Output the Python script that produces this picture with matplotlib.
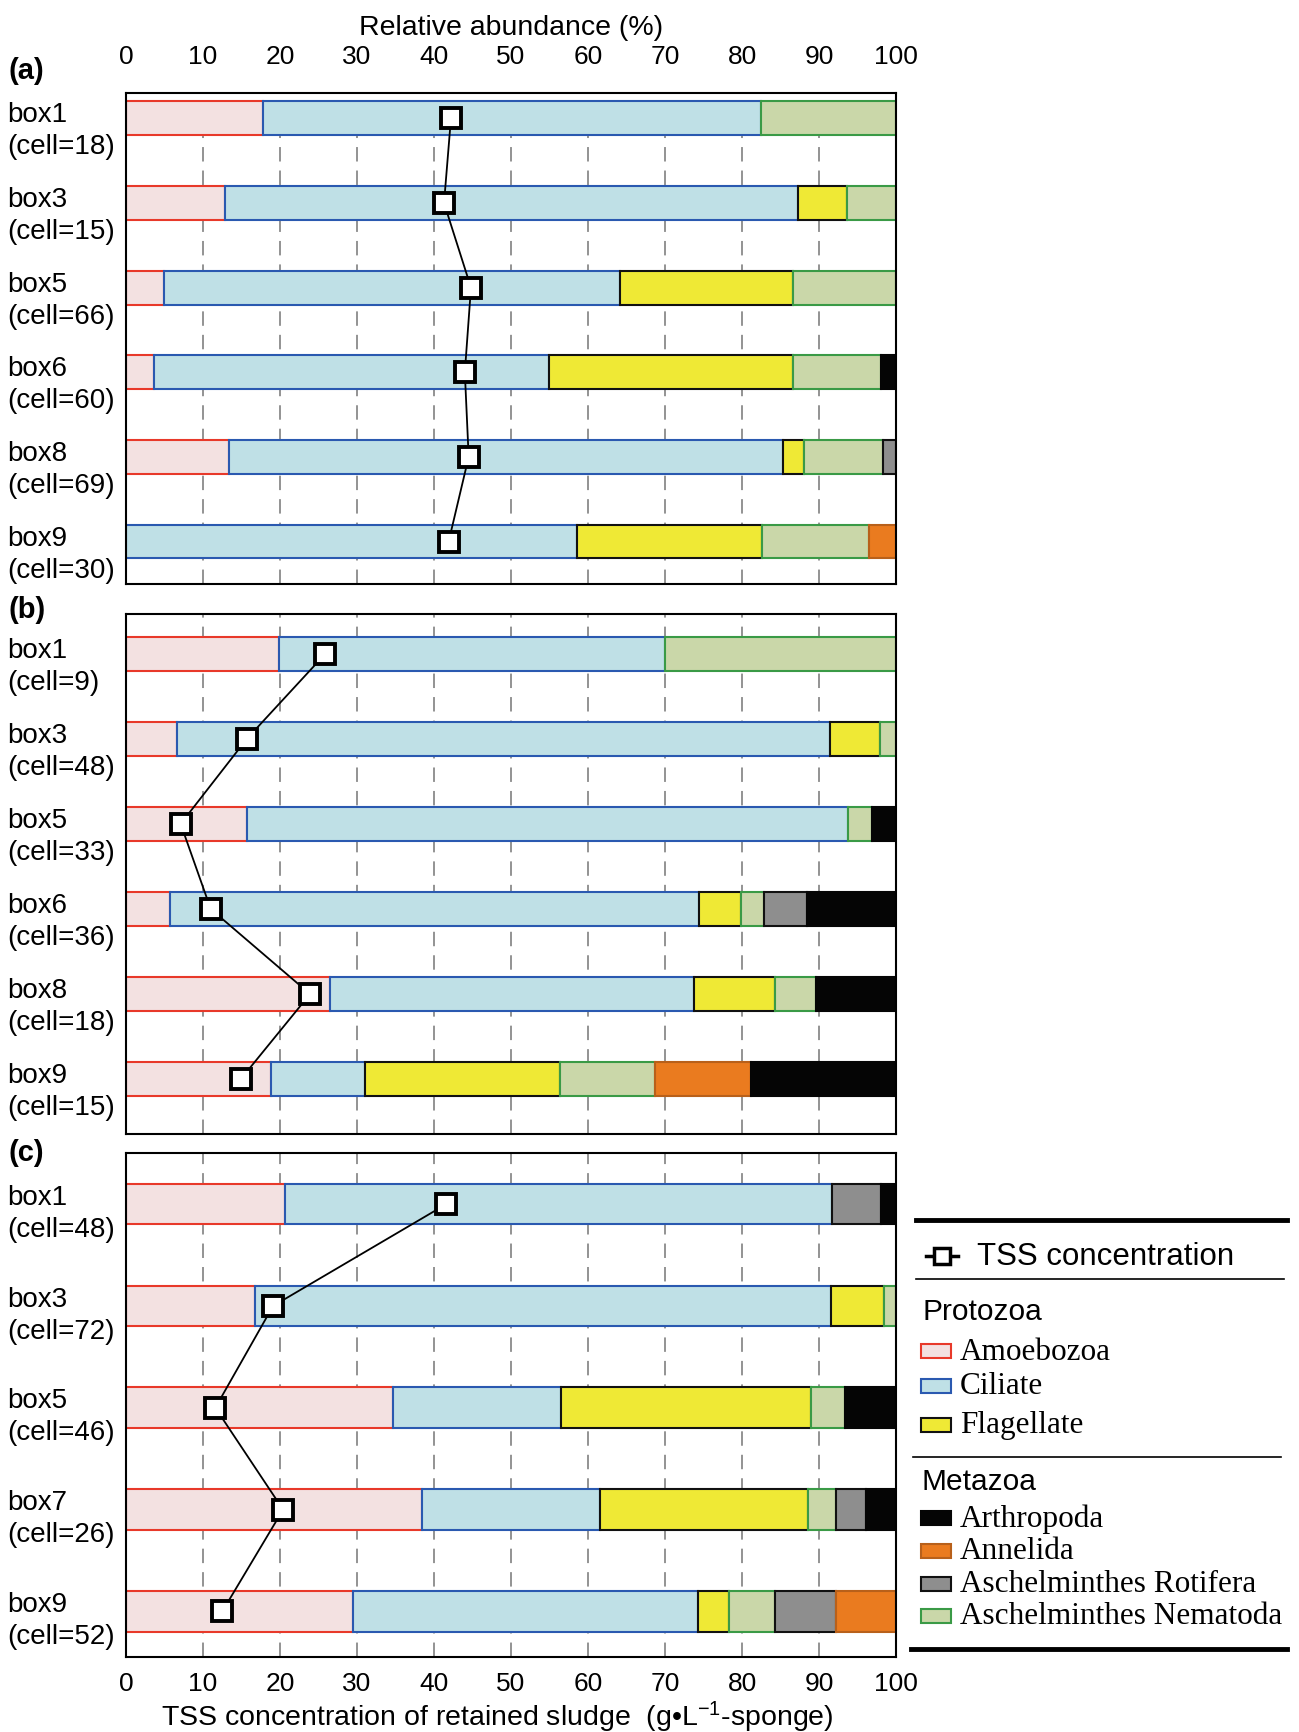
import numpy as np
import matplotlib
matplotlib.use("Agg")
import matplotlib.pyplot as plt
from matplotlib.transforms import blended_transform_factory
from matplotlib.patches import Rectangle

plt.rcParams['font.family'] = ['Liberation Sans', 'DejaVu Sans']
plt.rcParams['mathtext.fontset'] = 'custom'
plt.rcParams['mathtext.rm'] = 'Liberation Sans'
plt.rcParams['mathtext.it'] = 'Liberation Sans'

# stacking order of the segments in every bar
categories = ["Amoebozoa", "Ciliate", "Flagellate", "Aschelminthes Nematoda",
              "Aschelminthes Rotifera", "Annelida", "Arthropoda"]
fill_colors = ["#f3e1e1", "#bfe0e6", "#efe935", "#cad7a9", "#8e8e8e", "#ea7b1f", "#050505"]
edge_colors = ["#e8392a", "#2a59b0", "#111111", "#3a9a46", "#111111", "#b8601a", "#050505"]

# (a)
a_boxes = ["box1", "box3", "box5", "box6", "box8", "box9"]
a_cells = [18, 15, 66, 60, 69, 30]
a_tss = [42.2, 41.3, 44.8, 44.0, 44.5, 41.9]
a_abund = [[17.8, 64.7, 0.0, 17.5, 0.0, 0.0, 0.0],
           [12.9, 74.4, 6.3, 6.4, 0.0, 0.0, 0.0],
           [4.9, 59.2, 22.5, 13.4, 0.0, 0.0, 0.0],
           [3.7, 51.2, 31.7, 11.4, 0.0, 0.0, 2.0],
           [13.4, 71.9, 2.8, 10.2, 1.7, 0.0, 0.0],
           [0.0, 58.6, 24.0, 13.9, 0.0, 3.5, 0.0]]

# (b)
b_boxes = ["box1", "box3", "box5", "box6", "box8", "box9"]
b_cells = [9, 48, 33, 36, 18, 15]
b_tss = [25.9, 15.7, 7.1, 11.0, 23.9, 14.9]
b_abund = [[19.9, 50.1, 0.0, 30.0, 0.0, 0.0, 0.0],
           [6.6, 84.8, 6.5, 2.1, 0.0, 0.0, 0.0],
           [15.7, 78.1, 0.0, 3.1, 0.0, 0.0, 3.1],
           [5.7, 68.7, 5.5, 2.9, 5.6, 0.0, 11.6],
           [26.5, 47.2, 10.6, 5.3, 0.0, 0.0, 10.4],
           [18.8, 12.3, 25.2, 12.4, 0.0, 12.4, 18.9]]

# (c)
c_boxes = ["box1", "box3", "box5", "box7", "box9"]
c_cells = [48, 72, 46, 26, 52]
c_tss = [41.6, 19.1, 11.6, 20.4, 12.5]
c_abund = [[20.7, 71.0, 0.0, 0.0, 6.3, 0.0, 2.0],
           [16.8, 74.7, 7.0, 1.5, 0.0, 0.0, 0.0],
           [34.7, 21.8, 32.5, 4.4, 0.0, 0.0, 6.6],
           [38.4, 23.1, 27.1, 3.6, 3.9, 0.0, 3.9],
           [29.5, 44.8, 4.0, 6.0, 7.9, 7.8, 0.0]]

BAR_H = 0.4


def draw_panel(ax, boxes, cells, tss, abund, ylim):
    y = np.arange(len(boxes))
    abund = np.array(abund)
    left = np.zeros(len(boxes))
    for k in range(len(categories)):
        w = abund[:, k]
        bars = ax.barh(y, w, left=left, height=BAR_H, color=fill_colors[k],
                       edgecolor=edge_colors[k], linewidth=1.5, zorder=2)
        for p, v in zip(bars, w):
            if v == 0:
                p.set_visible(False)
        left = left + w
    ax.plot(tss, y, color='black', lw=1.3, marker='s', ms=14, mfc='white',
            mec='black', mew=2.8, zorder=4)
    ax.set_xlim(0, 100)
    ax.set_ylim(*ylim)
    ax.set_yticks([])
    ax.set_xticks(np.arange(0, 101, 10))
    ax.tick_params(axis='x', length=0, labelsize=19)
    ax.set_axisbelow(True)
    ax.xaxis.grid(True, linestyle=(0, (8, 5)), color='#8a8a8a', lw=1.3)
    for s in ax.spines.values():
        s.set_linewidth(1.5)
    trans = blended_transform_factory(ax.transAxes, ax.transData)
    for yi, b, c in zip(y, boxes, cells):
        ax.text(-0.1545, yi - BAR_H / 2, f"{b}\n(cell={c})", transform=trans,
                ha='left', va='top', fontsize=20, linespacing=1.3)


fig = plt.figure(figsize=(12.99, 17.33), dpi=100)

# legend drawn in pixel coordinates on a full-figure overlay
leg = fig.add_axes([0, 0, 1, 1])
leg.set_xlim(0, 1299)
leg.set_ylim(1733, 0)
leg.axis('off')

ax_a = fig.add_axes([0.097, 0.6625, 0.5928, 0.2833])
ax_b = fig.add_axes([0.097, 0.3448, 0.5928, 0.3005])
ax_c = fig.add_axes([0.097, 0.0431, 0.5928, 0.2909])

draw_panel(ax_a, a_boxes, a_cells, a_tss, a_abund, (5.5, -0.3))
draw_panel(ax_b, b_boxes, b_cells, b_tss, b_abund, (5.65, -0.47))
draw_panel(ax_c, c_boxes, c_cells, c_tss, c_abund, (4.45, -0.5))

ax_a.xaxis.tick_top()
ax_a.tick_params(axis='x', pad=18)
ax_a.xaxis.set_label_position('top')
ax_a.set_xlabel("Relative abundance (%)", fontsize=20.5, labelpad=7)
ax_b.tick_params(axis='x', labelbottom=False)
ax_c.tick_params(axis='x', pad=10)
fig.text(497 / 1299, 1 - 1717 / 1733,
         r"TSS concentration of retained sludge  (g•L$^{-1}$-sponge)",
         ha='center', va='center', fontsize=20.5)

for lab, ypx in [("(a)", 71), ("(b)", 610), ("(c)", 1153)]:
    fig.text(9 / 1299, 1 - ypx / 1733, lab, ha='left', va='center',
             fontsize=21, fontweight='bold')

# legend box
leg.plot([916, 1287], [1221, 1221], color='black', lw=3.5)
leg.plot([916, 1284], [1280, 1280], color='black', lw=1.2)
leg.plot([913, 1281], [1458, 1458], color='black', lw=1.2)
leg.plot([911, 1287], [1650, 1650], color='black', lw=3.5)
leg.plot([926, 958], [1257, 1257], color='black', lw=2.5)
leg.plot([942], [1257], marker='s', ms=11, mfc='white', mec='black', mew=2.5)
leg.text(977, 1257, "TSS concentration", fontsize=22.5, va='center', ha='left')
leg.text(923, 1312, "Protozoa", fontsize=21.5, va='center', ha='left')
leg.text(922, 1482, "Metazoa", fontsize=21.5, va='center', ha='left')

legend_rows = [("Amoebozoa", 1352), ("Ciliate", 1387), ("Flagellate", 1426),
               ("Arthropoda", 1519), ("Annelida", 1552),
               ("Aschelminthes Rotifera", 1585), ("Aschelminthes Nematoda", 1617)]
for name, ypx in legend_rows:
    k = categories.index(name)
    leg.add_patch(Rectangle((921, ypx - 7), 30, 14, facecolor=fill_colors[k],
                            edgecolor=edge_colors[k], lw=1.5))
    leg.text(960, ypx, name, fontsize=22.5, va='center', ha='left',
             family=['Liberation Serif', 'DejaVu Serif'])

fig.savefig("out.png", dpi=100)
